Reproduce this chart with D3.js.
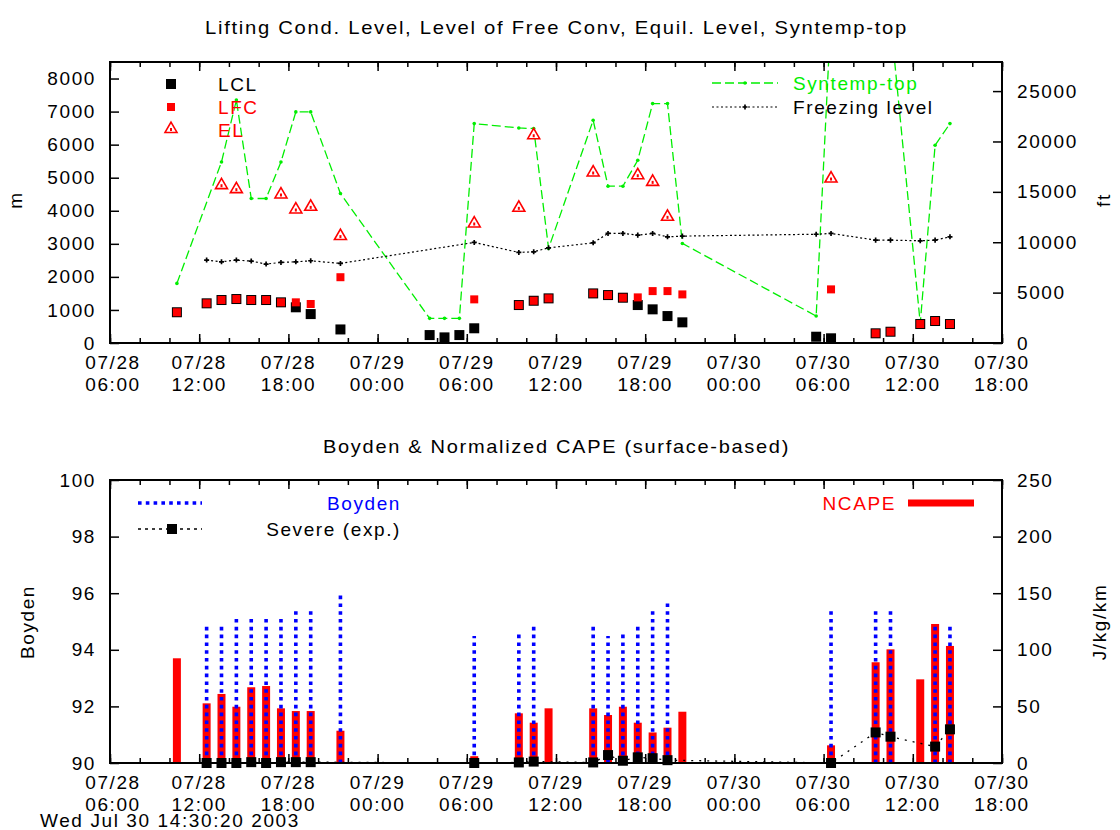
<!DOCTYPE html>
<html><head><meta charset="utf-8">
<script src="https://cdn.jsdelivr.net/npm/d3@7"></script>
<style>
body{margin:0;background:#fff;}
text{font-family:"Liberation Sans",Arial,sans-serif;font-size:19px;letter-spacing:1.6px;fill:#000;}
</style></head><body><svg id="c" width="1120" height="830" xmlns="http://www.w3.org/2000/svg"></svg>
<script>
// ---------- DATA ----------
const xStart = "07/28 06:00", xEnd = "07/30 18:00";
const lclTimes = ["07/28 10:30","07/28 12:30","07/28 13:30","07/28 14:30","07/28 15:30","07/28 16:30","07/28 17:30","07/28 18:30","07/28 19:30","07/28 21:30","07/29 03:30","07/29 04:30","07/29 05:30","07/29 06:30","07/29 09:30","07/29 10:30","07/29 11:30","07/29 14:30","07/29 15:30","07/29 16:30","07/29 17:30","07/29 18:30","07/29 19:30","07/29 20:30","07/30 05:30","07/30 06:30","07/30 09:30","07/30 10:30","07/30 12:30","07/30 13:30","07/30 14:30"];
const lclValues = [930,1200,1300,1330,1300,1300,1230,1080,875,410,240,170,240,445,1148,1278,1350,1500,1450,1370,1148,1018,815,625,190,142,293,341,574,665,574];
const lfcTimes = ["07/28 10:30","07/28 12:30","07/28 13:30","07/28 14:30","07/28 15:30","07/28 16:30","07/28 17:30","07/28 18:30","07/28 19:30","07/28 21:30","07/29 06:30","07/29 09:30","07/29 10:30","07/29 11:30","07/29 14:30","07/29 15:30","07/29 16:30","07/29 17:30","07/29 18:30","07/29 19:30","07/29 20:30","07/30 06:30","07/30 09:30","07/30 10:30","07/30 12:30","07/30 13:30","07/30 14:30"];
const lfcValues = [930,1200,1300,1330,1300,1300,1230,1230,1180,1990,1320,1148,1278,1350,1500,1450,1370,1380,1570,1570,1470,1622,293,341,574,665,574];
const elTimes = ["07/28 13:30","07/28 14:30","07/28 17:30","07/28 18:30","07/28 19:30","07/28 21:30","07/29 06:30","07/29 09:30","07/29 10:30","07/29 14:30","07/29 17:30","07/29 18:30","07/29 19:30","07/30 06:30"];
const elValues = [4773,4652,4492,4038,4118,3233,3615,4088,6284,5157,5075,4874,3816,4975];
const syntempTimes = ["07/28 10:30","07/28 13:30","07/28 14:30","07/28 15:30","07/28 16:30","07/28 17:30","07/28 18:30","07/28 19:30","07/28 21:30","07/29 03:30","07/29 04:30","07/29 05:30","07/29 06:30","07/29 09:30","07/29 10:30","07/29 11:30","07/29 14:30","07/29 15:30","07/29 16:30","07/29 17:30","07/29 18:30","07/29 19:30","07/29 20:30","07/30 05:30","07/30 06:30","07/30 09:30","07/30 10:30","07/30 12:30","07/30 13:30","07/30 14:30"];
const syntempValues = [1803,5477,7350,4371,4371,5477,6990,6990,4520,746,746,746,6637,6505,6486,2860,6737,4743,4743,5529,7242,7242,3012,815,10000,11000,9800,595,5980,6637];
const freezeTimes = ["07/28 12:30","07/28 13:30","07/28 14:30","07/28 15:30","07/28 16:30","07/28 17:30","07/28 18:30","07/28 19:30","07/28 21:30","07/29 06:30","07/29 09:30","07/29 10:30","07/29 11:30","07/29 14:30","07/29 15:30","07/29 16:30","07/29 17:30","07/29 18:30","07/29 19:30","07/29 20:30","07/30 05:30","07/30 06:30","07/30 09:30","07/30 10:30","07/30 12:30","07/30 13:30","07/30 14:30"];
const freezeValues = [2508,2456,2508,2477,2387,2438,2456,2487,2408,3042,2740,2758,2879,3030,3314,3314,3263,3314,3211,3233,3290,3314,3112,3112,3091,3112,3211];

const boydenTimes = ["07/28 12:30","07/28 13:30","07/28 14:30","07/28 15:30","07/28 16:30","07/28 17:30","07/28 18:30","07/28 19:30","07/28 21:30","07/29 06:30","07/29 09:30","07/29 10:30","07/29 14:30","07/29 15:30","07/29 16:30","07/29 17:30","07/29 18:30","07/29 19:30","07/30 06:30","07/30 09:30","07/30 10:30","07/30 13:30","07/30 14:30"];
const boydenValues = [94.82,94.82,95.11,95.17,95.17,95.17,95.43,95.43,96.0,94.49,94.55,94.82,94.82,94.49,94.55,94.84,95.38,95.70,95.43,95.43,95.43,94.82,94.82];
const ncapeTimes = ["07/28 10:30","07/28 12:30","07/28 13:30","07/28 14:30","07/28 15:30","07/28 16:30","07/28 17:30","07/28 18:30","07/28 19:30","07/28 21:30","07/29 06:30","07/29 09:30","07/29 10:30","07/29 11:30","07/29 14:30","07/29 15:30","07/29 16:30","07/29 17:30","07/29 18:30","07/29 19:30","07/29 20:30","07/30 06:30","07/30 09:30","07/30 10:30","07/30 12:30","07/30 13:30","07/30 14:30"];
const ncapeValues = [92.5,52.7,61,49.7,66.9,68,48.3,45.9,45.9,28.5,6,43.9,35.6,48.3,48.3,42.4,49.7,35.6,27,31.2,45.3,15.6,89,100.4,73.9,122.8,103.4];
const severeTimes = ["07/28 12:30","07/28 13:30","07/28 14:30","07/28 15:30","07/28 16:30","07/28 17:30","07/28 18:30","07/28 19:30","07/29 06:30","07/29 09:30","07/29 10:30","07/29 14:30","07/29 15:30","07/29 16:30","07/29 17:30","07/29 18:30","07/29 19:30","07/30 06:30","07/30 09:30","07/30 10:30","07/30 13:30","07/30 14:30"];
const severeValues = [90,90,90,90.03,90,90.03,90.03,90.03,90,90.02,90.05,90.02,90.28,90.08,90.2,90.17,90.1,90,91.08,90.93,90.58,91.19];

const topYTicks = [0,1000,2000,3000,4000,5000,6000,7000,8000];
const ftTicks = [0,5000,10000,15000,20000,25000];
const boydenTicks = [90,92,94,96,98,100];
const ncapeTicks = [0,50,100,150,200,250];

// ---------- SETUP ----------
const parse = s => d3.timeParse("%Y/%m/%d %H:%M")("2003/" + s);
const zip = (t, v) => t.map((s, i) => ({t: parse(s), v: v[i]}));
const svg = d3.select("#c");
const L = 110, R = 1002;
const x = d3.scaleTime().domain([parse(xStart), parse(xEnd)]).range([L, R]);
const T1 = 62, B1 = 343, T2 = 480, B2 = 763;
const yTop = d3.scaleLinear().domain([0, 8500]).range([B1, T1]);
const yFt = d3.scaleLinear().domain([0, 8500 * 3.28084]).range([B1, T1]);
const yB = d3.scaleLinear().domain([90, 100]).range([B2, T2]);
const yN = d3.scaleLinear().domain([0, 250]).range([B2, T2]);
const GREEN = "#00ee00", RED = "#ff0000", BLUE = "#0000ff";
const intFmt = d3.format("d");

const major = x.ticks(d3.timeHour.every(6));
const minor = x.ticks(d3.timeHour.every(2));
const fD = d3.timeFormat("%m/%d"), fT = d3.timeFormat("%H:%M");

function clean(g) { g.select(".domain").remove(); g.selectAll("line").attr("stroke", "#000").attr("stroke-width", 1.5); }

function xAxes(yb, yt) {
  svg.append("g").attr("transform", `translate(0,${yb})`).call(d3.axisBottom(x).tickValues(minor).tickSize(-5).tickFormat("")).call(clean);
  svg.append("g").attr("transform", `translate(0,${yb})`).call(d3.axisBottom(x).tickValues(major).tickSize(-9).tickFormat("")).call(clean);
  svg.append("g").attr("transform", `translate(0,${yt})`).call(d3.axisTop(x).tickValues(minor).tickSize(-5).tickFormat("")).call(clean);
  svg.append("g").attr("transform", `translate(0,${yt})`).call(d3.axisTop(x).tickValues(major).tickSize(-9).tickFormat("")).call(clean);
  const lab = svg.append("g").selectAll("text").data(major).join("text")
    .attr("text-anchor", "middle");
  lab.append("tspan").attr("x", (d, i) => x(d) + (i === 0 ? 3 : 0)).attr("y", yb + 26).text(d => fD(d));
  lab.append("tspan").attr("x", (d, i) => x(d) + (i === 0 ? 3 : 0)).attr("y", yb + 48).text(d => fT(d));
}
function yAxisL(scale, ticks) {
  const g = svg.append("g").attr("transform", `translate(${L},0)`).call(d3.axisLeft(scale).tickValues(ticks).tickFormat(intFmt).tickSize(-9).tickPadding(14)).call(clean);
  g.selectAll("text").attr("font-size", null).attr("font-family", null);
}
function yAxisR(scale, ticks) {
  const g = svg.append("g").attr("transform", `translate(${R},0)`).call(d3.axisRight(scale).tickValues(ticks).tickFormat(intFmt).tickSize(-9).tickPadding(15)).call(clean);
  g.selectAll("text").attr("font-size", null).attr("font-family", null);
}

// ---------- TOP PANEL ----------
svg.append("text").attr("x", 556.5).attr("y", 34).attr("text-anchor", "middle").attr("textLength", 703).attr("lengthAdjust", "spacingAndGlyphs")
  .text("Lifting Cond. Level,  Level of Free Conv,  Equil. Level,  Syntemp-top");
svg.append("defs").append("clipPath").attr("id", "clipTop").append("rect").attr("x", L).attr("y", T1).attr("width", R - L).attr("height", B1 - T1);

const topG = svg.append("g").attr("clip-path", "url(#clipTop)");
const syn = zip(syntempTimes, syntempValues);
const lineTop = d3.line().x(d => x(d.t)).y(d => yTop(d.v));
topG.append("path").datum(syn).attr("d", lineTop).attr("fill", "none").attr("stroke", GREEN).attr("stroke-width", 1.3).attr("stroke-dasharray", "9,4");
topG.selectAll(".sp").data(syn).join("circle").attr("cx", d => x(d.t)).attr("cy", d => yTop(d.v)).attr("r", 1.8).attr("fill", GREEN);
const frz = zip(freezeTimes, freezeValues);
topG.append("path").datum(frz).attr("d", lineTop).attr("fill", "none").attr("stroke", "#000").attr("stroke-width", 1.2).attr("stroke-dasharray", "2,2.5");
const plus = d3.symbol(d3.symbolCross, 14);
topG.selectAll(".fp").data(frz).join("path").attr("transform", d => `translate(${x(d.t)},${yTop(d.v)})`).attr("d", plus).attr("fill", "#000");

topG.selectAll(".lcl").data(zip(lclTimes, lclValues)).join("rect")
  .attr("x", d => x(d.t) - 5).attr("y", d => yTop(d.v) - 5).attr("width", 10).attr("height", 10).attr("fill", "#000");
topG.selectAll(".lfc").data(zip(lfcTimes, lfcValues)).join("rect")
  .attr("x", d => x(d.t) - 4).attr("y", d => yTop(d.v) - 4).attr("width", 8).attr("height", 8).attr("fill", RED);
const tri = d3.symbol(d3.symbolTriangle, 62);
const elG = topG.selectAll(".el").data(zip(elTimes, elValues)).join("g").attr("transform", d => `translate(${x(d.t)},${yTop(d.v)})`);
elG.append("path").attr("d", tri).attr("fill", "#fff").attr("stroke", RED).attr("stroke-width", 1.6);
elG.append("rect").attr("x", -1).attr("y", -1).attr("width", 2).attr("height", 3).attr("fill", RED);

// legends top
svg.append("rect").attr("x", 166).attr("y", 79).attr("width", 10).attr("height", 10).attr("fill", "#000");
svg.append("text").attr("x", 218).attr("y", 91).text("LCL");
svg.append("rect").attr("x", 167).attr("y", 103).attr("width", 8).attr("height", 8).attr("fill", RED);
svg.append("text").attr("x", 218).attr("y", 114).style("fill", RED).text("LFC");
const lg = svg.append("g").attr("transform", "translate(171,129)");
lg.append("path").attr("d", tri).attr("fill", "#fff").attr("stroke", RED).attr("stroke-width", 1.6);
lg.append("rect").attr("x", -1).attr("y", -1).attr("width", 2).attr("height", 3).attr("fill", RED);
svg.append("text").attr("x", 218).attr("y", 136.5).style("fill", RED).text("EL");

svg.append("line").attr("x1", 712).attr("x2", 778).attr("y1", 83).attr("y2", 83).attr("stroke", GREEN).attr("stroke-width", 1.3).attr("stroke-dasharray", "9,4");
svg.append("circle").attr("cx", 745).attr("cy", 83).attr("r", 1.8).attr("fill", GREEN);
svg.append("text").attr("x", 793).attr("y", 90).style("fill", GREEN).text("Syntemp-top");
svg.append("line").attr("x1", 712).attr("x2", 778).attr("y1", 107).attr("y2", 107).attr("stroke", "#000").attr("stroke-width", 1.2).attr("stroke-dasharray", "2,2.5");
svg.append("path").attr("transform", "translate(745,107)").attr("d", plus).attr("fill", "#000");
svg.append("text").attr("x", 793).attr("y", 113.5).text("Freezing level");

xAxes(B1, T1);
yAxisL(yTop, topYTicks);
yAxisR(yFt, ftTicks);
svg.append("rect").attr("x", L).attr("y", T1).attr("width", R - L).attr("height", B1 - T1).attr("fill", "none").attr("stroke", "#000").attr("stroke-width", 2);
svg.append("text").attr("transform", "translate(22,200) rotate(-90)").attr("text-anchor", "middle").text("m");
svg.append("text").attr("transform", "translate(1110,200) rotate(-90)").attr("text-anchor", "middle").text("ft");

// ---------- BOTTOM PANEL ----------
svg.append("text").attr("x", 556.5).attr("y", 453).attr("text-anchor", "middle").attr("textLength", 467).attr("lengthAdjust", "spacingAndGlyphs")
  .text("Boyden & Normalized CAPE (surface-based)");
const botG = svg.append("g");
botG.selectAll(".bar").data(zip(ncapeTimes, ncapeValues)).join("rect")
  .attr("x", d => x(d.t) - 4).attr("y", d => yN(d.v)).attr("width", 8).attr("height", d => yN(0) - yN(d.v)).attr("fill", RED);
botG.selectAll(".imp").data(zip(boydenTimes, boydenValues)).join("line")
  .attr("x1", d => x(d.t)).attr("x2", d => x(d.t)).attr("y1", yB(90)).attr("y2", d => yB(d.v))
  .attr("stroke", BLUE).attr("stroke-width", 3.6).attr("stroke-dasharray", "3.6,4.2");
const sev = zip(severeTimes, severeValues);
botG.append("path").datum(sev).attr("d", d3.line().x(d => x(d.t)).y(d => yB(d.v))).attr("fill", "none").attr("stroke", "#000").attr("stroke-width", 1.3).attr("stroke-dasharray", "2,6");
botG.selectAll(".sv").data(sev).join("rect").attr("x", d => x(d.t) - 5).attr("y", d => yB(d.v) - 5).attr("width", 10).attr("height", 10).attr("fill", "#000");

// legends bottom
svg.append("line").attr("x1", 138).attr("x2", 202).attr("y1", 503).attr("y2", 503).attr("stroke", BLUE).attr("stroke-width", 3.6).attr("stroke-dasharray", "3.6,4.2");
svg.append("text").attr("x", 401).attr("y", 510).attr("text-anchor", "end").style("fill", BLUE).text("Boyden");
svg.append("line").attr("x1", 138).attr("x2", 202).attr("y1", 529).attr("y2", 529).attr("stroke", "#000").attr("stroke-width", 1.3).attr("stroke-dasharray", "3,4");
svg.append("rect").attr("x", 167).attr("y", 524).attr("width", 10).attr("height", 10).attr("fill", "#000");
svg.append("text").attr("x", 401).attr("y", 536).attr("text-anchor", "end").text("Severe (exp.)");
svg.append("text").attr("x", 896).attr("y", 510).attr("text-anchor", "end").style("fill", RED).text("NCAPE");
svg.append("rect").attr("x", 908).attr("y", 499.5).attr("width", 66).attr("height", 7).attr("fill", RED);

xAxes(B2, T2);
yAxisL(yB, boydenTicks);
yAxisR(yN, ncapeTicks);
svg.append("rect").attr("x", L).attr("y", T2).attr("width", R - L).attr("height", B2 - T2).attr("fill", "none").attr("stroke", "#000").attr("stroke-width", 2);
svg.append("text").attr("transform", "translate(34,622) rotate(-90)").attr("text-anchor", "middle").text("Boyden");
svg.append("text").attr("transform", "translate(1106,622) rotate(-90)").attr("text-anchor", "middle").text("J/kg/km");

svg.append("text").attr("x", 40).attr("y", 827).text("Wed Jul 30 14:30:20 2003");
</script></body></html>
